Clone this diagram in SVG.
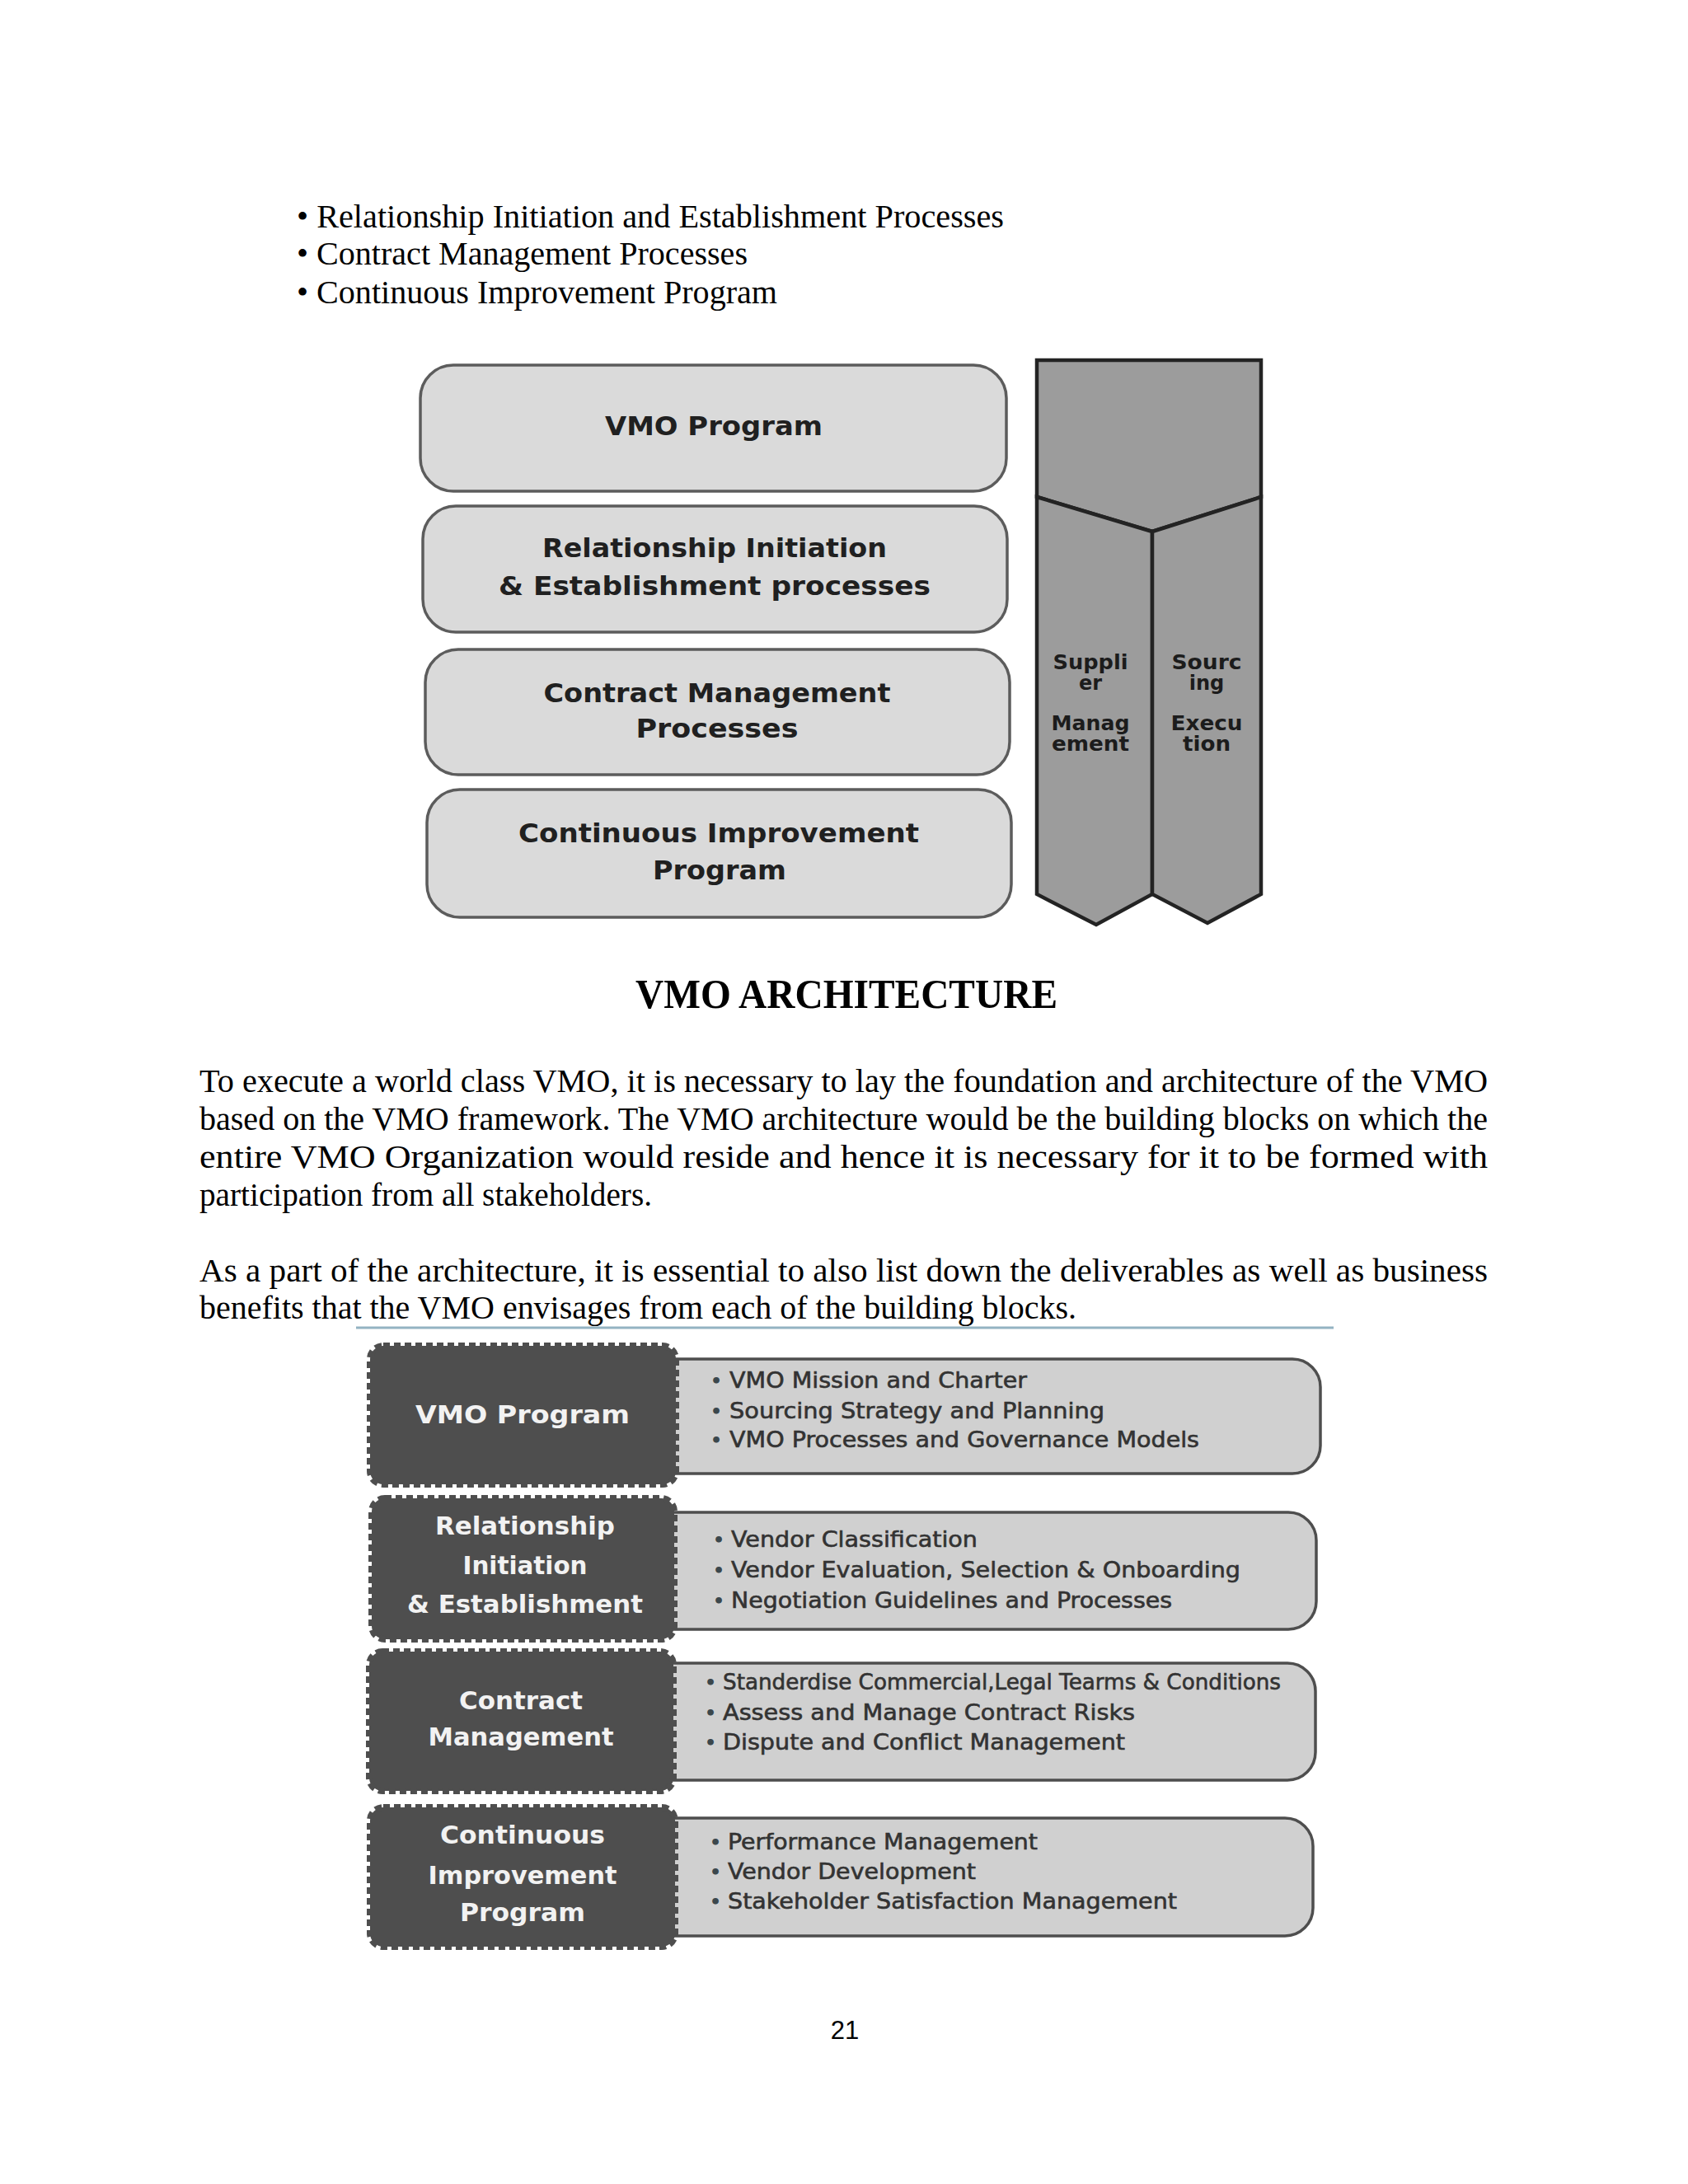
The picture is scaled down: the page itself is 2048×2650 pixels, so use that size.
<svg xmlns="http://www.w3.org/2000/svg" width="2048" height="2650" viewBox="0 0 2048 2650">
<style>
.body{font-family:"Liberation Serif","Times New Roman",serif;font-size:40px;fill:#000}
.head{font-family:"Liberation Serif","Times New Roman",serif;font-size:50px;font-weight:bold;fill:#000}
.tb{fill:#dadada;stroke:#5c5c5c;stroke-width:3.5}
.tbt{font-family:"DejaVu Sans","Verdana",sans-serif;font-size:32px;font-weight:bold;fill:#202020;text-anchor:middle}
.chev{fill:#9c9c9c;stroke:#232323;stroke-width:4.5;stroke-linejoin:miter}
.cht{font-family:"DejaVu Sans","Verdana",sans-serif;font-size:24px;font-weight:bold;fill:#1c1c1c;text-anchor:middle}
.lt{fill:#d0d0d0;stroke:#4e4e4e;stroke-width:3.5}
.dk{fill:#4e4e4e;stroke:#4e4e4e;stroke-width:8;stroke-dasharray:8 5}
.dkt{font-family:"DejaVu Sans","Verdana",sans-serif;font-size:31px;font-weight:bold;fill:#f2f2f2;text-anchor:middle}
.ltt{font-family:"DejaVu Sans","Verdana",sans-serif;font-size:26px;fill:#333;stroke:#333;stroke-width:0.6}
.bul{font-family:"DejaVu Sans","Verdana",sans-serif;font-size:22px;font-weight:bold;fill:#3b474c}
.pg{font-family:"Liberation Sans",Arial,sans-serif;font-size:31px;fill:#000;text-anchor:middle}
</style>
<rect width="2048" height="2650" fill="#ffffff"/>

<g id="top-bullets">
<text class="body" x="360" y="276" textLength="858" lengthAdjust="spacingAndGlyphs">• Relationship  Initiation  and Establishment  Processes</text>
<text class="body" x="360" y="321" textLength="547" lengthAdjust="spacingAndGlyphs">• Contract Management  Processes</text>
<text class="body" x="360" y="368" textLength="583" lengthAdjust="spacingAndGlyphs">• Continuous  Improvement  Program</text>
</g>

<g id="framework">
<g id="box-vmo-program">
<rect class="tb" x="510" y="443" width="711" height="153" rx="40"/>
<text class="tbt" x="866" y="528" textLength="264" lengthAdjust="spacingAndGlyphs">VMO Program</text>
</g>
<g id="box-relationship">
<rect class="tb" x="513" y="614" width="709" height="153" rx="40"/>
<text class="tbt" x="867" y="676" textLength="418" lengthAdjust="spacingAndGlyphs">Relationship Initiation</text>
<text class="tbt" x="867" y="722" textLength="524" lengthAdjust="spacingAndGlyphs">&amp; Establishment processes</text>
</g>
<g id="box-contract">
<rect class="tb" x="516" y="788" width="709" height="152" rx="40"/>
<text class="tbt" x="870" y="852" textLength="421" lengthAdjust="spacingAndGlyphs">Contract Management</text>
<text class="tbt" x="870" y="895" textLength="197" lengthAdjust="spacingAndGlyphs">Processes</text>
</g>
<g id="box-continuous">
<rect class="tb" x="518" y="958" width="709" height="155" rx="40"/>
<text class="tbt" x="872" y="1022" textLength="486" lengthAdjust="spacingAndGlyphs">Continuous Improvement</text>
<text class="tbt" x="873" y="1067" textLength="162" lengthAdjust="spacingAndGlyphs">Program</text>
</g>
<g id="chevron-top">
<path class="chev" d="M1258,437 L1530,437 L1530,603 L1398,645 L1258,603 Z"/>
</g>
<g id="col-supplier">
<path class="chev" d="M1258,603 L1398,645 L1398,1085 L1330,1122 L1258,1085 Z"/>
<text class="cht" x="1323" y="812" textLength="91" lengthAdjust="spacingAndGlyphs">Suppli</text>
<text class="cht" x="1323" y="837">er</text>
<text class="cht" x="1323" y="886" textLength="95" lengthAdjust="spacingAndGlyphs">Manag</text>
<text class="cht" x="1323" y="911" textLength="94" lengthAdjust="spacingAndGlyphs">ement</text>
</g>
<g id="col-sourcing">
<path class="chev" d="M1398,645 L1530,603 L1530,1085 L1465,1120 L1398,1085 Z"/>
<text class="cht" x="1464" y="812" textLength="85" lengthAdjust="spacingAndGlyphs">Sourc</text>
<text class="cht" x="1464" y="837">ing</text>
<text class="cht" x="1464" y="886" textLength="87" lengthAdjust="spacingAndGlyphs">Execu</text>
<text class="cht" x="1464" y="911" textLength="58" lengthAdjust="spacingAndGlyphs">tion</text>
</g>
</g>

<g id="connectors"></g>

<g id="heading">
<text class="head" x="1027" y="1223" text-anchor="middle" textLength="512" lengthAdjust="spacingAndGlyphs">VMO ARCHITECTURE</text>
</g>

<g id="paragraphs">
<text class="body" x="242" y="1325" textLength="1563" lengthAdjust="spacingAndGlyphs">To execute  a world  class  VMO, it  is  necessary  to lay  the  foundation  and architecture  of the VMO</text>
<text class="body" x="242" y="1371" textLength="1563" lengthAdjust="spacingAndGlyphs">based on the VMO framework.  The VMO architecture  would be the building  blocks on which  the</text>
<text class="body" x="242" y="1417" textLength="1563" lengthAdjust="spacingAndGlyphs">entire   VMO  Organization   would   reside   and   hence   it   is   necessary   for   it   to  be   formed   with</text>
<text class="body" x="242" y="1463" textLength="549" lengthAdjust="spacingAndGlyphs">participation  from all stakeholders.</text>
<text class="body" x="242" y="1555" textLength="1563" lengthAdjust="spacingAndGlyphs">As a part of the architecture,  it  is  essential  to also  list  down the deliverables  as well  as business</text>
<text class="body" x="242" y="1600" textLength="1064" lengthAdjust="spacingAndGlyphs">benefits  that the VMO envisages  from each of the building  blocks.</text>
<line x1="432" y1="1611" x2="1618" y2="1611" stroke="#93b3c2" stroke-width="3"/>
</g>

<g id="architecture">
<g id="row-vmo-program">
<rect class="lt" x="780" y="1649" width="822" height="139" rx="34"/>
<rect class="dk" x="449" y="1633" width="371" height="168" rx="16"/>
<text class="dkt" x="634" y="1727" textLength="260" lengthAdjust="spacingAndGlyphs">VMO Program</text>
<text class="bul" x="862" y="1683">•</text>
<text class="ltt" x="885" y="1684" textLength="361" lengthAdjust="spacingAndGlyphs">VMO Mission and Charter</text>
<text class="bul" x="862" y="1720">•</text>
<text class="ltt" x="885" y="1721" textLength="455" lengthAdjust="spacingAndGlyphs">Sourcing Strategy and Planning</text>
<text class="bul" x="862" y="1755">•</text>
<text class="ltt" x="885" y="1756" textLength="570" lengthAdjust="spacingAndGlyphs">VMO Processes and Governance Models</text>
</g>
<g id="row-relationship">
<rect class="lt" x="780" y="1835" width="817" height="142" rx="34"/>
<rect class="dk" x="451" y="1818" width="367" height="171" rx="16"/>
<text class="dkt" x="637" y="1862" textLength="218" lengthAdjust="spacingAndGlyphs">Relationship</text>
<text class="dkt" x="637" y="1910" textLength="151" lengthAdjust="spacingAndGlyphs">Initiation</text>
<text class="dkt" x="637" y="1957" textLength="286" lengthAdjust="spacingAndGlyphs">&amp; Establishment</text>
<text class="bul" x="865" y="1876">•</text>
<text class="ltt" x="887" y="1877" textLength="299" lengthAdjust="spacingAndGlyphs">Vendor Classification</text>
<text class="bul" x="865" y="1913">•</text>
<text class="ltt" x="887" y="1914" textLength="618" lengthAdjust="spacingAndGlyphs">Vendor Evaluation, Selection &amp; Onboarding</text>
<text class="bul" x="865" y="1950">•</text>
<text class="ltt" x="887" y="1951" textLength="535" lengthAdjust="spacingAndGlyphs">Negotiation Guidelines and Processes</text>
</g>
<g id="row-contract">
<rect class="lt" x="780" y="2018" width="816" height="142" rx="34"/>
<rect class="dk" x="448" y="2004" width="369" height="169" rx="16"/>
<text class="dkt" x="632" y="2074" textLength="150" lengthAdjust="spacingAndGlyphs">Contract</text>
<text class="dkt" x="632" y="2118" textLength="225" lengthAdjust="spacingAndGlyphs">Management</text>
<text class="bul" x="855" y="2049">•</text>
<text class="ltt" x="877" y="2050" textLength="677" lengthAdjust="spacingAndGlyphs">Standerdise Commercial,Legal Tearms &amp; Conditions</text>
<text class="bul" x="855" y="2086">•</text>
<text class="ltt" x="877" y="2087" textLength="500" lengthAdjust="spacingAndGlyphs">Assess and Manage Contract Risks</text>
<text class="bul" x="855" y="2122">•</text>
<text class="ltt" x="877" y="2123" textLength="488" lengthAdjust="spacingAndGlyphs">Dispute and Conflict Management</text>
</g>
<g id="row-continuous">
<rect class="lt" x="780" y="2206" width="813" height="143" rx="34"/>
<rect class="dk" x="449" y="2193" width="370" height="169" rx="16"/>
<text class="dkt" x="634" y="2237" textLength="200" lengthAdjust="spacingAndGlyphs">Continuous</text>
<text class="dkt" x="634" y="2286" textLength="229" lengthAdjust="spacingAndGlyphs">Improvement</text>
<text class="dkt" x="634" y="2331" textLength="152" lengthAdjust="spacingAndGlyphs">Program</text>
<text class="bul" x="861" y="2243">•</text>
<text class="ltt" x="883" y="2244" textLength="376" lengthAdjust="spacingAndGlyphs">Performance Management</text>
<text class="bul" x="861" y="2279">•</text>
<text class="ltt" x="883" y="2280" textLength="301" lengthAdjust="spacingAndGlyphs">Vendor Development</text>
<text class="bul" x="861" y="2315">•</text>
<text class="ltt" x="883" y="2316" textLength="545" lengthAdjust="spacingAndGlyphs">Stakeholder Satisfaction Management</text>
</g>
</g>

<g id="page-number">
<text class="pg" x="1025" y="2474">21</text>
</g>
</svg>
